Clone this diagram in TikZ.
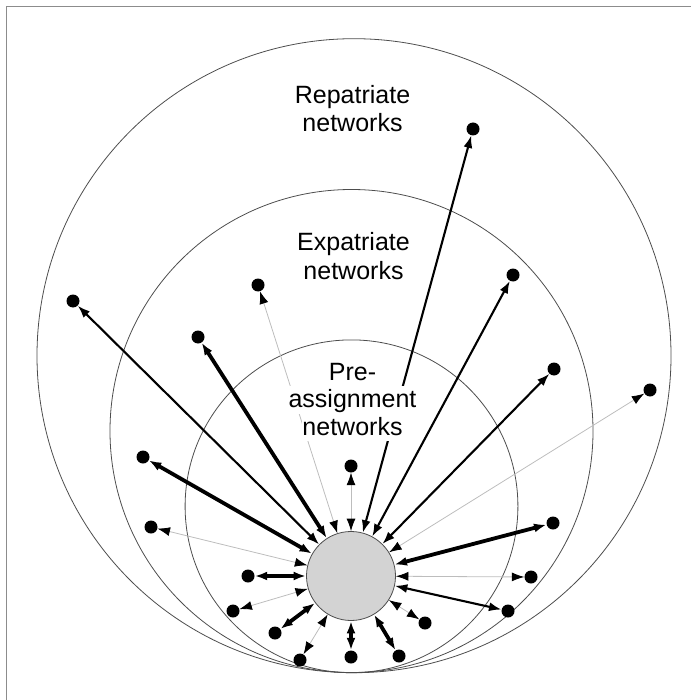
\documentclass[tikz,border=0pt]{standalone}
\usepackage{fontspec}
\setmainfont{Liberation Sans}
\usetikzlibrary{arrows.meta}
\definecolor{ringcol}{HTML}{4D4D4D}
\definecolor{hubfill}{HTML}{D3D3D3}
\definecolor{faint}{HTML}{BDBDBD}
\definecolor{framecol}{HTML}{8C8C8C}

\begin{document}
\begin{tikzpicture}[x=1pt,y=-1pt,
  ring/.style={draw=ringcol,line width=0.8pt},
  hub/.style={circle,draw=ringcol,line width=0.8pt,fill=hubfill,minimum size=89pt,inner sep=0pt},
  dot/.style={circle,fill=black,minimum size=13pt,inner sep=0pt},
  >={Latex[length=12.5pt,width=9pt,color=black]},
  thinlink/.style={<->,draw=faint,line width=0.8pt},
  midlink/.style={<->,draw=black,line width=2.1pt},
  boldlink/.style={<->,draw=black,line width=3.8pt},
  lbl/.style={font=\fontsize{25}{28}\selectfont,inner sep=0pt,text height=22pt,text depth=6pt,fill=white,anchor=base}
]
\useasboundingbox (0,0) rectangle (691,700);

% frame along the top and left edges
\draw[framecol,line width=1.6pt] (6.6,700) -- (6.6,6.6) -- (691,6.6);

% the three network rings
\draw[ring] (354,355.7) circle[radius=317];
\draw[ring] (351.5,431) circle[radius=241.5];
\draw[ring] (351.5,506.3) circle[radius=166.4];

% central person and contacts
\node[hub] (c) at (351,576) {};
\node[dot] (n1) at (473,129) {};
\node[dot] (n2) at (513,275) {};
\node[dot] (n3) at (554,369) {};
\node[dot] (n4) at (650,390) {};
\node[dot] (n5) at (553,523) {};
\node[dot] (n6) at (531,577) {};
\node[dot] (n7) at (508,611) {};
\node[dot] (n8) at (425,623) {};
\node[dot] (n9) at (399,656) {};
\node[dot] (n10) at (351,657) {};
\node[dot] (n11) at (300,660) {};
\node[dot] (n12) at (275,633) {};
\node[dot] (n13) at (233,611) {};
\node[dot] (n14) at (248,576) {};
\node[dot] (n15) at (151,527) {};
\node[dot] (n16) at (143,457) {};
\node[dot] (n17) at (198,337) {};
\node[dot] (n18) at (73,301) {};
\node[dot] (n19) at (258,285) {};
\node[dot] (n20) at (351,466) {};

% ties, by strength
\draw[midlink] (c) -- (n1);
\draw[midlink] (c) -- (n2);
\draw[midlink] (c) -- (n3);
\draw[thinlink] (c) -- (n4);
\draw[boldlink] (c) -- (n5);
\draw[thinlink] (c) -- (n6);
\draw[midlink] (c) -- (n7);
\draw[thinlink] (c) -- (n8);
\draw[boldlink] (c) -- (n9);
\draw[boldlink] (c) -- (n10);
\draw[thinlink] (c) -- (n11);
\draw[boldlink] (c) -- (n12);
\draw[thinlink] (c) -- (n13);
\draw[boldlink] (c) -- (n14);
\draw[thinlink] (c) -- (n15);
\draw[boldlink] (c) -- (n16);
\draw[boldlink] (c) -- (n17);
\draw[midlink] (c) -- (n18);
\draw[thinlink] (c) -- (n19);
\draw[thinlink] (c) -- (n20);

% ring labels
\node[lbl] (rep1) at (352.5,103.3) {Repatriate};
\node[lbl] (rep2) at (352.5,131.7) {networks};
\node[lbl] (exp1) at (353.5,250.9) {Expatriate};
\node[lbl] (exp2) at (353.5,279.2) {networks};
\node[lbl] (pre1) at (352.5,380) {Pre-};
\node[lbl] (pre2) at (352.5,407.7) {assignment};
\node[lbl] (pre3) at (352.5,435.3) {networks};
\end{tikzpicture}
\end{document}
